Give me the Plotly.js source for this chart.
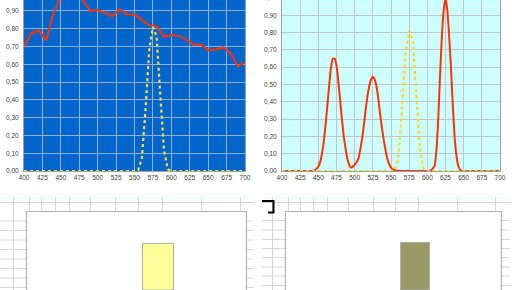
<!DOCTYPE html>
<html>
<head>
<meta charset="utf-8">
<script src="https://cdn.plot.ly/plotly-3.0.1.min.js"></script>
<style>
html,body{margin:0;padding:0;background:#fff;overflow:hidden;width:516px;height:290px;}
#chart{position:absolute;left:0;top:-30px;width:516px;height:320px;}
</style>
</head>
<body>
<div id="chart"></div>
<script>
// ---- data ----
const leftWl  = [400,410,420,430,440,450,460,470,480,490,500,510,520,530,540,550,560,570,580,590,600,610,620,630,640,650,660,670,680,690,700];
const leftRed = [0.70,0.775,0.79,0.735,0.885,0.98,1.0,1.0,0.96,0.90,0.905,0.89,0.87,0.91,0.88,0.88,0.85,0.82,0.815,0.755,0.765,0.76,0.74,0.71,0.712,0.68,0.683,0.695,0.665,0.59,0.61];

const yellowWl  = [400,425,450,475,500,525,550,555,560,565,570,575,580,585,590,595,600,625,650,675,700];
const yellowVal = [0,0,0,0,0,0,0,0.005,0.07,0.35,0.68,0.81,0.755,0.43,0.12,0.01,0,0,0,0,0];

const rightWl  = [400,420,440,445,450,452.5,455,457.5,460,462.5,465,467.5,470,472.5,475,477.5,480,482.5,485,487.5,490,492.5,495,497.5,500,
                  505,510,512.5,515,517.5,520,522.5,525,527.5,530,532.5,535,537.5,540,542.5,545,547.5,550,555,560,570,580,590,600,
                  605,610,612.5,615,617.5,620,622.5,625,627.5,630,632.5,635,637.5,640,642.5,645,647.5,650,675,700];
const rightRed = [0,0,0,0.005,0.025,0.05,0.1,0.17,0.27,0.38,0.5,0.6,0.65,0.65,0.61,0.52,0.41,0.3,0.2,0.13,0.07,0.035,0.02,0.025,0.035,
                  0.07,0.18,0.26,0.35,0.43,0.49,0.53,0.545,0.53,0.49,0.42,0.33,0.25,0.18,0.12,0.07,0.04,0.02,0.005,0.002,0,0,0,0,
                  0.003,0.03,0.12,0.3,0.55,0.78,0.93,1.0,0.93,0.78,0.6,0.38,0.2,0.09,0.03,0.008,0,0,0,0];

const xTicks = [400,425,450,475,500,525,550,575,600,625,650,675,700];
const yTicksLeft = [0,0.1,0.2,0.3,0.4,0.5,0.6,0.7,0.8,0.9];
const yTicksRight = [0,0.1,0.2,0.3,0.4,0.5,0.6,0.7,0.8,0.9,1.0];

const swatchCats = ['Farbe'];
const swatchLeft = [0.594];
const swatchRight = [0.607];
const swatchColors = ['#FFFF99','#999966'];

// ---- helpers (page pixel -> paper) ----
const W = 516, H = 320, OFF = 30;
const px = x => x / W;
const py = y => 1 - (y + OFF) / H;

const tickFont = {family:'Liberation Sans, Arial, sans-serif', size:6.5, color:'#404040'};

function specX(dom, anchor, grid){
  return {domain:dom, anchor:anchor, range:[400,700], tickvals:xTicks, showgrid:true, gridcolor:grid,
    ticks:'', tickfont:tickFont, showline:true, linecolor:'#a0a0a0', mirror:true, zeroline:false, fixedrange:true};
}
function specY(dom, anchor, grid, tv){
  return {domain:dom, anchor:anchor, range:[0,1.0], tickvals:tv, tickformat:'.2f', showgrid:true,
    gridcolor:grid, ticks:'', tickfont:tickFont, showline:true, linecolor:'#a0a0a0', mirror:true,
    zeroline:false, fixedrange:true, ticklabelstandoff:3};
}

const traces = [
  {x:leftWl, y:leftRed, xaxis:'x', yaxis:'y', mode:'lines', line:{color:'#FF3300', width:2}, hoverinfo:'skip'},
  {x:yellowWl, y:yellowVal, xaxis:'x', yaxis:'y', mode:'lines', line:{color:'#FFE033', width:2.2, dash:'dot'}, hoverinfo:'skip'},
  {x:rightWl, y:rightRed, xaxis:'x2', yaxis:'y2', mode:'lines', line:{color:'#FF3300', width:2, shape:'spline', smoothing:0.4}, hoverinfo:'skip'},
  {x:yellowWl, y:yellowVal, xaxis:'x2', yaxis:'y2', mode:'lines', line:{color:'#FFD21F', width:2.2, dash:'dot'}, hoverinfo:'skip'},
  {x:swatchCats, y:swatchLeft, xaxis:'x3', yaxis:'y3', type:'bar', width:0.8,
    marker:{color:swatchColors[0], line:{color:'#a8a8a8', width:1}}, hoverinfo:'skip'},
  {x:swatchCats, y:swatchRight, xaxis:'x4', yaxis:'y4', type:'bar', width:0.8,
    marker:{color:swatchColors[1], line:{color:'#b0b0b0', width:1}}, hoverinfo:'skip'}
];

const shapes = [];
// plot backgrounds
shapes.push({type:'rect', xref:'x domain', yref:'y domain', x0:0, x1:1, y0:0, y1:1, fillcolor:'#0066CC', line:{width:0}, layer:'below'});
shapes.push({type:'rect', xref:'x2 domain', yref:'y2 domain', x0:0, x1:1, y0:0, y1:1, fillcolor:'#CCFFFF', line:{width:0}, layer:'below'});

// spreadsheet grid (decorative)
const gcol = '#d6d6d6';
function hline(y, x0, x1, c){ shapes.push({type:'line', xref:'paper', yref:'paper', x0:px(x0), x1:px(x1), y0:py(y), y1:py(y), line:{color:c||gcol, width:1}, layer:'below'}); }
function vline(x, y0, y1, c){ shapes.push({type:'line', xref:'paper', yref:'paper', x0:px(x), x1:px(x), y0:py(y0), y1:py(y1), line:{color:c||gcol, width:1}, layer:'below'}); }

// left sheet
hline(197.5, 0, 253, '#dcffff');
hline(202.5, 0, 253);
[29.5,41.5,55.5,69.5,90.5,115.5,138.5,162.5,201.5,240.5].forEach(x => vline(x, 197.5, 211.5));
vline(13.5, 197.5, 292);
[221,230.5,240,249.5,259,268.5,278,287.5].forEach(y => { hline(y, 0, 27); hline(y, 247, 253); });
// right sheet
hline(197.5, 262, 510, '#dcffff');
hline(202.5, 262, 510);
[288.5,300.5,313.5,327.5,348.5,373.5,395.5,418.5,457.5,495.5].forEach(x => vline(x, 197.5, 211.5));
vline(272.5, 197.5, 292);
[220.5,230,239.5,248.5,257.5,267,276,285.5].forEach(y => { hline(y, 262, 286); hline(y, 502, 510); });

// chart boxes
shapes.push({type:'rect', xref:'paper', yref:'paper', x0:px(26.5), x1:px(246.5), y0:py(300), y1:py(211.5), fillcolor:'#ffffff', line:{color:'#b4b4b4', width:1.2}, layer:'below'});
shapes.push({type:'rect', xref:'paper', yref:'paper', x0:px(285.5), x1:px(501.5), y0:py(300), y1:py(211.5), fillcolor:'#ffffff', line:{color:'#b4b4b4', width:1.2}, layer:'below'});

// black bracket
shapes.push({type:'path', xref:'paper', yref:'paper',
  path:`M ${px(262)} ${py(201)} L ${px(273.5)} ${py(201)} L ${px(273.5)} ${py(212.5)} L ${px(268)} ${py(212.5)}`,
  line:{color:'#000000', width:2}, layer:'above'});

const layout = {
  width:W, height:H, margin:{l:0,r:0,t:0,b:0},
  paper_bgcolor:'#ffffff', plot_bgcolor:'rgba(0,0,0,0)',
  separators:',.', showlegend:false,
  xaxis: specX([px(24), px(245)], 'y', '#8fb0d8'),
  yaxis: specY([py(171), py(-6.8)], 'x', '#8fb0d8', yTicksLeft),
  xaxis2: specX([px(282), px(500)], 'y2', '#c4c4c4'),
  yaxis2: specY([py(171), py(-2)], 'x2', '#c4c4c4', yTicksRight),
  xaxis3: {domain:[px(26.5), px(246.5)], anchor:'y3', type:'category', range:[-3.39, 2.28], visible:false, fixedrange:true},
  yaxis3: {domain:[0, py(211.5)], anchor:'x3', range:[0,1], visible:false, fixedrange:true},
  xaxis4: {domain:[px(285.5), px(501.5)], anchor:'y4', type:'category', range:[-3.58, 2.39], visible:false, fixedrange:true},
  yaxis4: {domain:[0, py(211.5)], anchor:'x4', range:[0,1], visible:false, fixedrange:true},
  shapes:shapes
};

Plotly.newPlot('chart', traces, layout, {staticPlot:true, displayModeBar:false});
</script>
</body>
</html>
